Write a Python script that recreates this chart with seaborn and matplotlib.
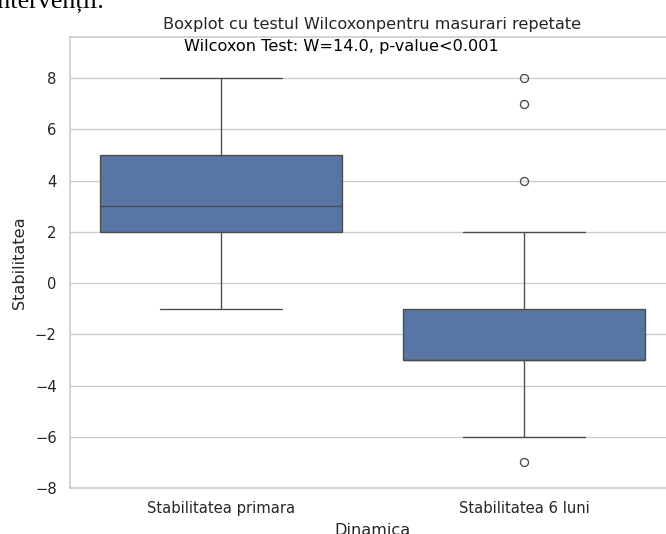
import numpy as np
import pandas as pd
import matplotlib
matplotlib.use("Agg")
import matplotlib.pyplot as plt
import seaborn as sns

# Data
categories = ["Stabilitatea primara", "Stabilitatea 6 luni"]
stab_primara = [-1, 0, 1, 2, 2, 2, 2, 3, 3, 3, 3, 4, 4, 4, 5, 5, 5, 6, 7, 7, 8]
stab_6_luni = [-7, -6, -5, -4, -3, -3, -3, -3, -3, -3, -3, -2, -2, -1, -1, -1, 0, 2, 4, 7, 8]
yticks = [-8, -6, -4, -2, 0, 2, 4, 6, 8]
title = "Boxplot cu testul Wilcoxonpentru masurari repetate"
annot = "Wilcoxon Test: W=14.0, p-value<0.001"

df = pd.DataFrame({
    "Dinamica": [categories[0]] * len(stab_primara) + [categories[1]] * len(stab_6_luni),
    "Stabilitatea": stab_primara + stab_6_luni,
})

sns.set_theme(style="whitegrid")
W, H, DPI = 666, 534, 96.5
fig = plt.figure(figsize=(W / DPI, H / DPI), dpi=DPI)
ax = fig.add_axes([69.5 / W, 46 / H, 606 / W, 451 / H])

sns.boxplot(data=df, x="Dinamica", y="Stabilitatea", order=categories, ax=ax)
ax.set_ylim(-8, 9.6)
ax.set_yticks(yticks)
ax.set_title(title)
ax.set_xlabel("Dinamica", labelpad=5.5)
ax.set_ylabel("Stabilitatea", labelpad=6.2)
ax.spines["right"].set_visible(False)
ax.text(0.396, 9.22, annot, ha="center", va="center", fontsize=12, color="black")

fig.text(104 / W, 1 - 8 / H, "intervenții.", ha="right", va="baseline",
         fontsize=19.5, family="Liberation Serif", color="black")

fig.savefig("out.png", dpi=DPI)
